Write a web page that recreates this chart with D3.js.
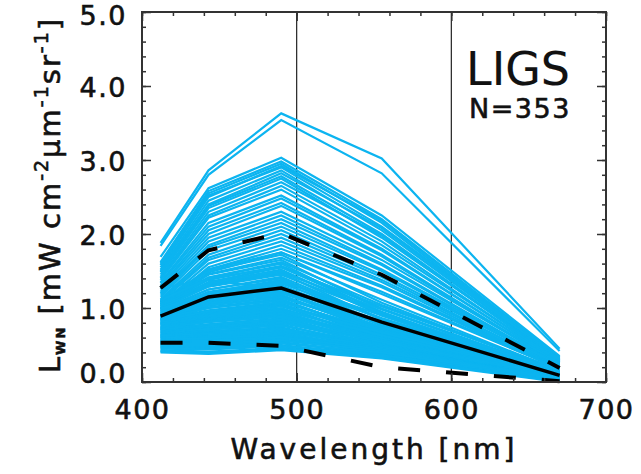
<!DOCTYPE html>
<html>
<head>
<meta charset="utf-8">
<script src="https://cdn.jsdelivr.net/npm/d3@7"></script>
<style>
  html, body { margin: 0; padding: 0; background: #fff; }
  svg { display: block; }
  text { font-family: "DejaVu Sans", sans-serif; fill: #111; stroke: #111; stroke-width: 0.6px; }
</style>
</head>
<body>
<svg id="chart" width="641" height="474"></svg>
<script>
// Band centres (nm) at which every spectrum is sampled
const wavelengths = [412, 443, 490, 555, 670];

// Normalized water-leaving radiance spectra, one row per station
const spectra = [
  [1.88, 2.86, 3.63, 3.02, 0.45],
  [1.84, 2.80, 3.54, 2.82, 0.42],
  [1.69, 2.62, 3.03, 2.25, 0.35],
  [1.62, 2.58, 2.98, 2.20, 0.33],
  [1.58, 2.55, 2.95, 2.15, 0.30],
  [1.55, 2.50, 2.92, 2.18, 0.32],
  [1.60, 2.52, 2.90, 2.10, 0.34],
  [1.52, 2.45, 2.86, 2.05, 0.29],
  [1.50, 2.40, 2.82, 2.08, 0.31],
  [1.48, 2.38, 2.78, 2.00, 0.28],
  [1.45, 2.35, 2.75, 1.95, 0.30],
  [1.42, 2.30, 2.70, 1.98, 0.27],
  [1.40, 2.25, 2.65, 1.90, 0.26],
  [1.38, 2.22, 2.60, 1.85, 0.28],
  [1.35, 2.15, 2.52, 1.80, 0.25],
  [1.33, 2.10, 2.48, 1.78, 0.26],
  [1.30, 2.05, 2.42, 1.72, 0.24],
  [1.28, 2.00, 2.38, 1.70, 0.23],
  [1.25, 1.95, 2.30, 1.65, 0.25],
  [1.22, 1.90, 2.25, 1.60, 0.22],
  [1.20, 1.85, 2.20, 1.58, 0.21],
  [1.18, 1.82, 2.15, 1.52, 0.23],
  [1.15, 1.78, 2.10, 1.50, 0.20],
  [1.12, 1.72, 2.05, 1.45, 0.22],
  [1.10, 1.68, 2.00, 1.42, 0.19],
  [1.08, 1.65, 1.95, 1.38, 0.20],
  [1.05, 1.60, 1.90, 1.35, 0.18],
  [1.02, 1.55, 1.85, 1.30, 0.19],
  [1.00, 1.52, 1.80, 1.28, 0.17],
  [0.98, 1.48, 1.75, 1.22, 0.18],
  [1.27, 1.38, 1.25, 0.80, 0.10],
  [1.09, 1.52, 1.75, 1.19, 0.18],
  [1.08, 1.50, 1.72, 1.07, 0.14],
  [1.08, 1.46, 1.68, 1.11, 0.15],
  [1.06, 1.45, 1.65, 0.99, 0.12],
  [1.05, 1.41, 1.62, 1.04, 0.16],
  [1.06, 1.41, 1.60, 0.93, 0.10],
  [1.04, 1.38, 1.57, 0.99, 0.14],
  [1.04, 1.35, 1.55, 1.02, 0.17],
  [1.10, 1.40, 1.55, 0.95, 0.10],
  [1.02, 1.34, 1.52, 0.90, 0.11],
  [1.02, 1.32, 1.50, 0.93, 0.12],
  [1.00, 1.30, 1.48, 0.98, 0.13],
  [1.00, 1.29, 1.47, 0.84, 0.09],
  [1.00, 1.29, 1.45, 0.93, 0.15],
  [0.98, 1.25, 1.42, 0.85, 0.10],
  [0.98, 1.25, 1.40, 0.78, 0.07],
  [0.98, 1.21, 1.38, 0.86, 0.12],
  [0.95, 1.22, 1.36, 0.90, 0.11],
  [0.96, 1.20, 1.35, 0.78, 0.09],
  [0.96, 1.18, 1.33, 0.86, 0.13],
  [0.99, 1.20, 1.31, 0.76, 0.07],
  [0.94, 1.16, 1.30, 0.72, 0.08],
  [0.91, 1.14, 1.29, 0.82, 0.12],
  [0.93, 1.15, 1.28, 0.77, 0.10],
  [0.92, 1.12, 1.26, 0.79, 0.11],
  [0.92, 1.12, 1.24, 0.71, 0.06],
  [0.90, 1.10, 1.22, 0.74, 0.09],
  [0.88, 1.08, 1.21, 0.70, 0.08],
  [0.90, 1.07, 1.20, 0.79, 0.12],
  [0.89, 1.06, 1.18, 0.66, 0.07],
  [0.88, 1.04, 1.16, 0.68, 0.09],
  [0.85, 1.03, 1.15, 0.74, 0.10],
  [0.87, 1.04, 1.14, 0.71, 0.08],
  [0.86, 1.01, 1.12, 0.62, 0.06],
  [0.84, 1.00, 1.11, 0.64, 0.05],
  [0.85, 1.00, 1.10, 0.66, 0.10],
  [0.84, 0.97, 1.08, 0.69, 0.09],
  [0.83, 0.96, 1.06, 0.60, 0.06],
  [0.80, 0.95, 1.05, 0.66, 0.08],
  [0.82, 0.95, 1.04, 0.63, 0.07],
  [0.79, 0.93, 1.03, 0.56, 0.04],
  [0.81, 0.92, 1.02, 0.67, 0.10],
  [0.80, 0.91, 1.00, 0.58, 0.05],
  [0.78, 0.90, 0.98, 0.61, 0.08],
  [0.77, 0.89, 0.97, 0.63, 0.09],
  [0.78, 0.87, 0.96, 0.54, 0.06],
  [0.76, 0.86, 0.94, 0.59, 0.08],
  [0.74, 0.85, 0.93, 0.52, 0.05],
  [0.75, 0.84, 0.92, 0.55, 0.06],
  [0.74, 0.83, 0.90, 0.59, 0.04],
  [0.72, 0.82, 0.89, 0.57, 0.06],
  [0.73, 0.81, 0.88, 0.51, 0.07],
  [0.72, 0.78, 0.86, 0.53, 0.05],
  [0.70, 0.78, 0.85, 0.47, 0.03],
  [0.71, 0.77, 0.84, 0.56, 0.08],
  [0.70, 0.75, 0.82, 0.49, 0.04],
  [0.68, 0.75, 0.81, 0.54, 0.07],
  [0.68, 0.74, 0.80, 0.51, 0.06],
  [0.67, 0.72, 0.78, 0.44, 0.07],
  [0.66, 0.72, 0.77, 0.47, 0.04],
  [0.65, 0.71, 0.76, 0.50, 0.03],
  [0.64, 0.68, 0.74, 0.45, 0.06],
  [0.63, 0.69, 0.73, 0.43, 0.05],
  [0.63, 0.67, 0.72, 0.49, 0.04],
  [0.61, 0.66, 0.71, 0.47, 0.06],
  [0.62, 0.65, 0.70, 0.44, 0.07],
  [0.60, 0.63, 0.68, 0.48, 0.03],
  [0.60, 0.62, 0.67, 0.41, 0.02],
  [0.59, 0.61, 0.66, 0.43, 0.06],
  [0.57, 0.60, 0.64, 0.46, 0.04],
  [0.57, 0.59, 0.63, 0.44, 0.04],
  [0.56, 0.57, 0.62, 0.42, 0.02],
  [0.55, 0.56, 0.61, 0.40, 0.03],
  [0.54, 0.56, 0.60, 0.44, 0.05],
  [0.53, 0.54, 0.58, 0.40, 0.03],
  [0.52, 0.53, 0.57, 0.41, 0.04],
  [0.51, 0.52, 0.56, 0.42, 0.05],
  [0.50, 0.50, 0.54, 0.38, 0.02],
  [0.49, 0.49, 0.53, 0.37, 0.02],
  [0.48, 0.48, 0.52, 0.40, 0.04],
  [0.47, 0.46, 0.50, 0.36, 0.01],
  [0.46, 0.45, 0.49, 0.35, 0.02],
  [0.45, 0.44, 0.48, 0.36, 0.03],
  [0.43, 0.41, 0.46, 0.33, 0.02],
  [0.42, 0.40, 0.45, 0.34, 0.01],
  [0.41, 0.39, 0.44, 0.33, 0.01],
  [0.40, 0.38, 0.43, 0.32, 0.00]
];

// Mean spectrum and mean ± one standard deviation
const meanSpectrum  = [0.89, 1.15, 1.27, 0.81, 0.09];
const upperSpectrum = [1.27, 1.78, 2.01, 1.45, 0.19];
const lowerSpectrum = [0.53, 0.53, 0.49, 0.20, 0.01];

// Axis ticks
const xMajorTicks = [400, 500, 600, 700];
const xMinorTicks = d3.range(400, 701, 20);
const yMajorTicks = [0, 1, 2, 3, 4, 5];
const yMinorTicks = d3.range(0, 25.1, 1).map(d => d / 5);
const referenceLines = [500, 600];

const plot = { left: 142, right: 606, top: 12, bottom: 382 };

const svg = d3.select("#chart");

const x = d3.scaleLinear().domain([400, 700]).range([plot.left, plot.right]);
const y = d3.scaleLinear().domain([0, 5]).range([plot.bottom, plot.top]);

const line = d3.line()
  .x((d, i) => x(wavelengths[i]))
  .y(d => y(d));

// Reference wavelengths
svg.append("g")
  .selectAll("line")
  .data(referenceLines)
  .join("line")
  .attr("x1", d => x(d)).attr("x2", d => x(d))
  .attr("y1", plot.top).attr("y2", plot.bottom)
  .attr("stroke", "#222")
  .attr("stroke-width", 1.2);

// Individual spectra
svg.append("g")
  .selectAll("path")
  .data(spectra)
  .join("path")
  .attr("d", line)
  .attr("fill", "none")
  .attr("stroke", "#0cb4f0")
  .attr("stroke-width", 2.2);

// Mean ± SD (dashed) and mean (solid)
svg.append("g")
  .selectAll("path")
  .data([upperSpectrum, lowerSpectrum])
  .join("path")
  .attr("d", line)
  .attr("fill", "none")
  .attr("stroke", "#000")
  .attr("stroke-width", 4)
  .attr("stroke-dasharray", "22,26");

svg.append("path")
  .datum(meanSpectrum)
  .attr("d", line)
  .attr("fill", "none")
  .attr("stroke", "#000")
  .attr("stroke-width", 3.5);

// Axes with inward ticks on all four sides
const fmt = d3.format(".1f");
function styleAxis(g) {
  g.select(".domain").remove();
  g.selectAll(".tick line").attr("stroke", "#333").attr("stroke-width", 1.5);
  g.selectAll("text")
    .style("font-family", "'DejaVu Sans', sans-serif")
    .style("font-size", "27px")
    .style("letter-spacing", "1.5px")
    .attr("fill", "#111");
}

svg.append("g")
  .attr("transform", `translate(${plot.left},0)`)
  .call(d3.axisLeft(y).tickValues(yMinorTicks).tickSize(-4).tickFormat(""))
  .call(styleAxis);
svg.append("g")
  .attr("transform", `translate(${plot.left},0)`)
  .call(d3.axisLeft(y).tickValues(yMajorTicks).tickSize(-9).tickPadding(15).tickFormat(fmt))
  .call(styleAxis)
  .call(g => g.selectAll(".tick text").attr("dy", d => d === 0 ? "0.02em" : d === 5 ? "0.45em" : "0.4em"));
svg.append("g")
  .attr("transform", `translate(${plot.right},0)`)
  .call(d3.axisRight(y).tickValues(yMinorTicks).tickSize(-4).tickFormat(""))
  .call(styleAxis);
svg.append("g")
  .attr("transform", `translate(${plot.right},0)`)
  .call(d3.axisRight(y).tickValues(yMajorTicks).tickSize(-9).tickFormat(""))
  .call(styleAxis);

svg.append("g")
  .attr("transform", `translate(0,${plot.bottom})`)
  .call(d3.axisBottom(x).tickValues(xMinorTicks).tickSize(-4).tickFormat(""))
  .call(styleAxis);
svg.append("g")
  .attr("transform", `translate(0,${plot.bottom})`)
  .call(d3.axisBottom(x).tickValues(xMajorTicks).tickSize(-9).tickPadding(18).tickFormat(d3.format("d")))
  .call(styleAxis);
svg.append("g")
  .attr("transform", `translate(0,${plot.top})`)
  .call(d3.axisTop(x).tickValues(xMinorTicks).tickSize(-4).tickFormat(""))
  .call(styleAxis);
svg.append("g")
  .attr("transform", `translate(0,${plot.top})`)
  .call(d3.axisTop(x).tickValues(xMajorTicks).tickSize(-9).tickFormat(""))
  .call(styleAxis);

// Plot frame
svg.append("rect")
  .attr("x", plot.left).attr("y", plot.top)
  .attr("width", plot.right - plot.left)
  .attr("height", plot.bottom - plot.top)
  .attr("fill", "none")
  .attr("stroke", "#333")
  .attr("stroke-width", 2);

// Axis titles
svg.append("text")
  .attr("x", (plot.left + plot.right) / 2)
  .attr("y", 459)
  .attr("text-anchor", "middle")
  .style("font-size", "28px")
  .style("letter-spacing", "3px")
  .text("Wavelength [nm]");

const yTitle = svg.append("text")
  .attr("transform", "translate(60,195) rotate(-90)")
  .attr("text-anchor", "middle")
  .style("font-size", "29px")
  .style("letter-spacing", "2px");
yTitle.append("tspan").text("L");
yTitle.append("tspan").attr("dy", 5).style("font-size", "13px").style("font-weight", "bold").text("WN");
yTitle.append("tspan").attr("dy", -5).text(" [mW cm");
yTitle.append("tspan").attr("dy", -12).style("font-size", "19px").text("-2");
yTitle.append("tspan").attr("dy", 12).text("μm");
yTitle.append("tspan").attr("dy", -12).style("font-size", "19px").text("-1");
yTitle.append("tspan").attr("dy", 12).text("sr");
yTitle.append("tspan").attr("dy", -12).style("font-size", "19px").text("-1");
yTitle.append("tspan").attr("dy", 12).text("]");

// Dataset annotation
svg.append("text")
  .attr("x", 466).attr("y", 85)
  .style("font-size", "46px")
  .style("stroke-width", "0.1px")
  .text("LIGS");
svg.append("text")
  .attr("x", 469).attr("y", 118)
  .style("font-size", "27px")
  .style("letter-spacing", "1.5px")
  .text("N=353");
</script>
</body>
</html>
